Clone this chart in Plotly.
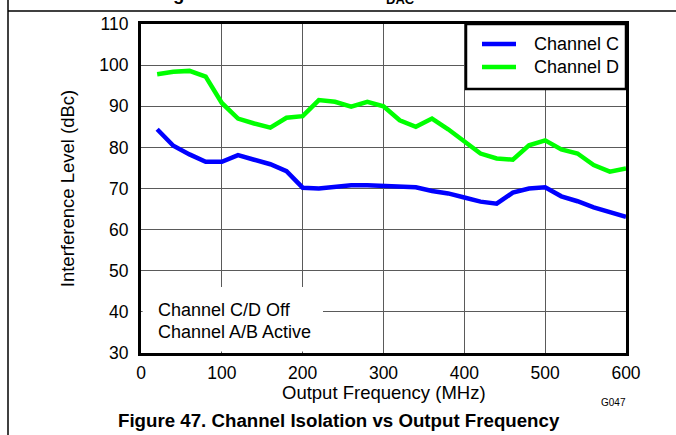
import plotly.graph_objects as go

# Output frequency sweep (MHz)
freq_mhz = [20, 40, 60, 80, 100, 120, 140, 160, 180, 200, 220, 240, 260, 280, 300,
            320, 340, 360, 380, 400, 420, 440, 460, 480, 500, 520, 540, 560, 580, 600]

# Interference level (dBc) per channel
channel_c = [84.4, 80.4, 78.3, 76.5, 76.5, 78.1, 77.0, 75.9, 74.2, 70.2, 70.0, 70.4, 70.8, 70.8, 70.7,
             70.4, 70.3, 69.4, 68.8, 67.8, 66.8, 66.3, 69.0, 70.0, 70.3, 68.1, 66.9, 65.4, 64.3, 63.1]
channel_d = [97.8, 98.4, 98.6, 97.2, 90.8, 87.0, 85.8, 84.8, 87.2, 87.6, 91.5, 91.1, 89.9, 91.1, 90.0,
             86.6, 85.0, 87.0, 84.4, 81.4, 78.5, 77.3, 77.0, 80.5, 81.7, 79.5, 78.5, 75.7, 74.1, 74.9]

series_names = ["Channel C", "Channel D"]
series_colors = ["#0000FF", "#00FF00"]

x_ticks = [0, 100, 200, 300, 400, 500, 600]
y_ticks = [30, 40, 50, 60, 70, 80, 90, 100, 110]

x_title = "Output Frequency (MHz)"
y_title = "Interference Level (dBc)"

FONT = "Liberation Sans, Arial, sans-serif"
W, H = 676, 435
ML, MR, MT, MB = 141, 50, 24, 82
PW, PH = W - ML - MR, H - MT - MB


def px_x(p):
    """pixel column -> paper x"""
    return (p - ML) / PW


def px_y(p):
    """pixel row -> paper y"""
    return (H - MB - p) / PH


fig = go.Figure()
for name, ys, col in zip(series_names, [channel_c, channel_d], series_colors):
    fig.add_trace(go.Scatter(x=freq_mhz, y=ys, mode="lines", name=name,
                             line=dict(color=col, width=4.5), showlegend=False))

axis_common = dict(showgrid=True, gridcolor="#5a5a5a", gridwidth=1.3,
                   showline=True, linecolor="black", linewidth=3, mirror=True,
                   ticks="outside", tickcolor="rgba(0,0,0,0)", zeroline=False,
                   tickfont=dict(family=FONT, size=17.5, color="black"))

fig.update_xaxes(range=[0, 600], tickvals=x_ticks, ticklen=2, **axis_common)
fig.update_yaxes(range=[30, 110], tickvals=y_ticks, ticklen=6,
                 title=dict(text=y_title, standoff=20,
                            font=dict(family=FONT, size=18.5, color="black")),
                 **axis_common)

shapes = []
annotations = []

# x-axis title, set just under the tick labels
annotations.append(dict(text=x_title, xref="paper", yref="paper",
                        x=0.5, y=px_y(392), xanchor="center", yanchor="middle",
                        showarrow=False, font=dict(family=FONT, size=18.5, color="black")))

# white note panel in the lower-left corner of the plot (kept inside the frame)
shapes.append(dict(type="rect", xref="paper", yref="paper",
                   x0=px_x(ML + 1.6), x1=px_x(323), y0=px_y(H - MB - 1.6), y1=px_y(287),
                   fillcolor="white", line=dict(width=0), layer="above"))
for i, txt in enumerate(["Channel C/D Off", "Channel A/B Active"]):
    annotations.append(dict(text=txt, xref="paper", yref="paper",
                            x=px_x(156), y=px_y(310 + 22 * i),
                            xanchor="left", yanchor="middle", showarrow=False,
                            font=dict(family=FONT, size=18, color="black")))

# legend box in the upper-right corner
shapes.append(dict(type="rect", xref="paper", yref="paper",
                   x0=px_x(466), x1=1, y0=px_y(89), y1=1,
                   fillcolor="white", line=dict(color="black", width=2.5), layer="above"))
for i, (name, col) in enumerate(zip(series_names, series_colors)):
    yy = px_y(44 + 23 * i)
    shapes.append(dict(type="line", xref="paper", yref="paper",
                       x0=px_x(482), x1=px_x(516), y0=yy, y1=yy,
                       line=dict(color=col, width=4.5), layer="above"))
    annotations.append(dict(text=name, xref="paper", yref="paper",
                            x=px_x(532), y=yy, xanchor="left", yanchor="middle",
                            showarrow=False,
                            font=dict(family=FONT, size=18, color="black")))

# page rules around the figure cell
shapes.append(dict(type="line", xref="paper", yref="paper",
                   x0=px_x(8), x1=px_x(8), y0=px_y(H + 5), y1=px_y(-5),
                   line=dict(color="black", width=1.5), layer="above"))
shapes.append(dict(type="line", xref="paper", yref="paper",
                   x0=px_x(8), x1=px_x(W + 5), y0=px_y(11), y1=px_y(11),
                   line=dict(color="black", width=1.5), layer="above"))

# tail of the preceding heading, running off the top edge of the page
annotations.append(dict(text="<b>g</b>", xref="paper", yref="paper",
                        x=px_x(178), y=px_y(6), xanchor="center", yanchor="bottom",
                        showarrow=False, font=dict(family=FONT, size=18.5, color="black")))
annotations.append(dict(text="<b>DAC</b>", xref="paper", yref="paper",
                        x=px_x(400), y=px_y(8.5), xanchor="center", yanchor="bottom",
                        showarrow=False, font=dict(family=FONT, size=13, color="black")))

# graph id and caption
annotations.append(dict(text="G047", xref="paper", yref="paper",
                        x=px_x(613), y=px_y(402), xanchor="center", yanchor="middle",
                        showarrow=False, font=dict(family=FONT, size=10, color="black")))
annotations.append(dict(text="<b>Figure 47. Channel Isolation vs Output Frequency</b>",
                        xref="paper", yref="paper",
                        x=px_x(339), y=px_y(420), xanchor="center", yanchor="middle",
                        showarrow=False, font=dict(family=FONT, size=18.7, color="black")))

fig.update_layout(width=W, height=H, margin=dict(l=ML, r=MR, t=MT, b=MB),
                  plot_bgcolor="white", paper_bgcolor="white",
                  shapes=shapes, annotations=annotations, showlegend=False)

fig.write_html("out.html", include_plotlyjs=True, full_html=True,
               config={"displayModeBar": False})
